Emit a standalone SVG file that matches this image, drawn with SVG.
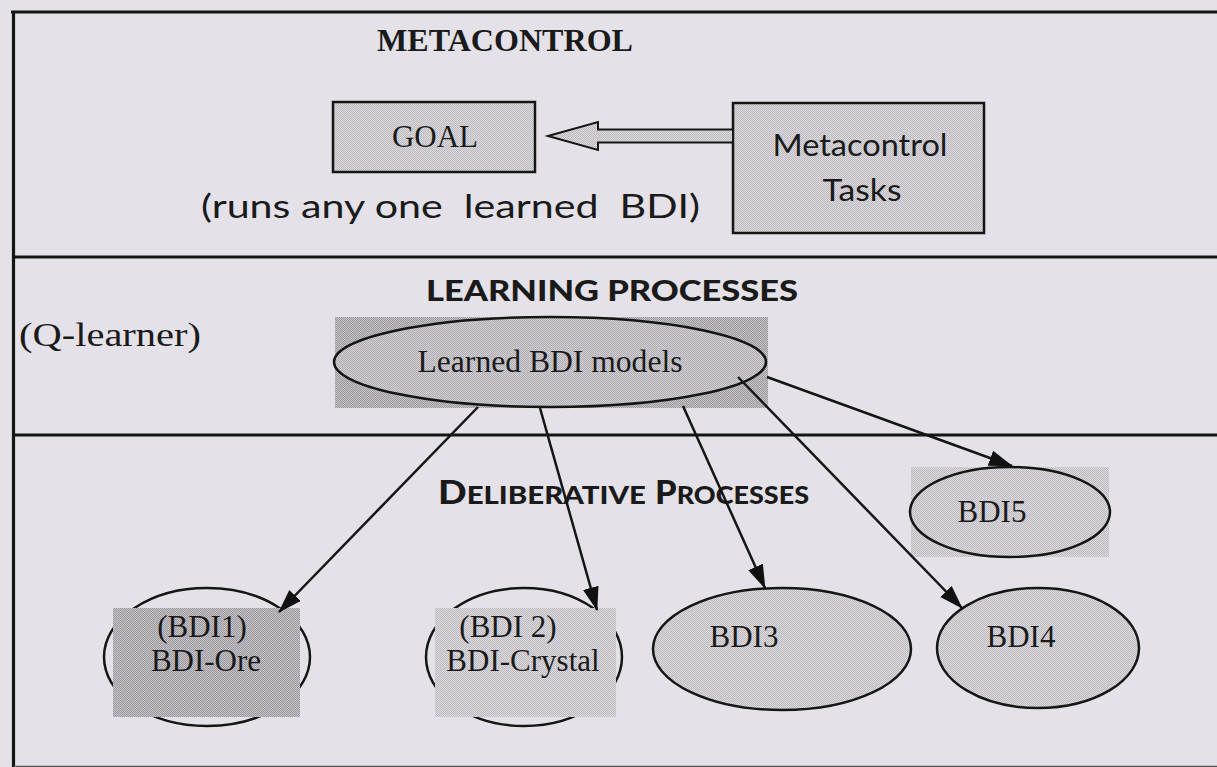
<svg xmlns="http://www.w3.org/2000/svg" width="1217" height="767" viewBox="0 0 1217 767">
  <defs>
    <!-- halftone-style dither fills -->
    <pattern id="dLight" width="2" height="2" patternUnits="userSpaceOnUse">
      <rect width="2" height="2" fill="#dcdadf"/>
      <rect width="1" height="1" fill="#bcbabf"/>
      <rect x="1" y="1" width="1" height="1" fill="#bcbabf"/>
    </pattern>
    <pattern id="dMid" width="2" height="2" patternUnits="userSpaceOnUse">
      <rect width="2" height="2" fill="#d2d0d5"/>
      <rect width="1" height="1" fill="#aeacb1"/>
      <rect x="1" y="1" width="1" height="1" fill="#aeacb1"/>
    </pattern>
    <pattern id="dDark" width="2" height="2" patternUnits="userSpaceOnUse">
      <rect width="2" height="2" fill="#c6c4c9"/>
      <rect width="1" height="1" fill="#9a989d"/>
      <rect x="1" y="1" width="1" height="1" fill="#9a989d"/>
    </pattern>
    <marker id="head" viewBox="0 0 24 18" refX="23" refY="9" markerWidth="24" markerHeight="18" markerUnits="userSpaceOnUse" orient="auto">
      <path d="M0 1 L24 9 L0 17 Z" fill="#111"/>
    </marker>
  </defs>
  <style>
    .serif { font-family: "Liberation Serif", "Times New Roman", serif; fill: #1a1a1a; }
    .hand { font-family: "Lato", "Open Sans", sans-serif; fill: #1a1a1a; }
    .box { stroke: #151515; stroke-width: 2.5; }
    .oval { stroke: #151515; stroke-width: 2.5; }
    .frame { stroke: #151515; stroke-width: 3.2; fill: none; }
    .link { stroke: #151515; stroke-width: 2.5; fill: none; marker-end: url(#head); }
  </style>

  <rect width="1217" height="767" fill="#e4e2e8"/>

  <!-- outer frame and layer dividers -->
  <g id="frame">
    <path class="frame" d="M11 12 H1217 M13.5 12 V767 M13.5 257 H1217 M13.5 435 H1217"/>
    <path d="M13.5 766.5 H1217" stroke="#555" stroke-width="1.5"/>
  </g>

  <!-- layer titles -->
  <g id="titles">
    <text class="serif" x="377" y="51" font-size="32" font-weight="bold" textLength="256" lengthAdjust="spacingAndGlyphs">METACONTROL</text>
    <text class="hand" x="426" y="301" font-size="29" font-weight="900" textLength="372" lengthAdjust="spacingAndGlyphs">LEARNING PROCESSES</text>
    <text class="hand" x="438" y="504" font-weight="900" textLength="208" lengthAdjust="spacingAndGlyphs"><tspan font-size="32">D</tspan><tspan font-size="25">ELIBERATIVE</tspan></text>
    <text class="hand" x="655" y="504" font-weight="900" textLength="154" lengthAdjust="spacingAndGlyphs"><tspan font-size="32">P</tspan><tspan font-size="25">ROCESSES</tspan></text>
    <text class="serif" x="19" y="346" font-size="34" textLength="182" lengthAdjust="spacingAndGlyphs">(Q-learner)</text>
    <text class="hand" x="201" y="218" font-size="32" xml:space="preserve" textLength="499" lengthAdjust="spacingAndGlyphs">(runs any one  learned  BDI)</text>
  </g>

  <g id="goal">
    <rect class="box" x="333" y="102" width="202" height="70" fill="url(#dLight)"/>
    <text class="serif" x="435" y="147" font-size="31" text-anchor="middle">GOAL</text>
  </g>

  <g id="metacontrol-tasks">
    <rect class="box" x="733" y="103" width="251" height="130" fill="url(#dLight)"/>
    <text class="hand" x="860" y="156" font-size="31" text-anchor="middle" textLength="175" lengthAdjust="spacingAndGlyphs">Metacontrol</text>
    <text class="hand" x="862" y="201" font-size="31" text-anchor="middle" textLength="79" lengthAdjust="spacingAndGlyphs">Tasks</text>
  </g>

  <g id="learned-bdi-models">
    <rect x="335" y="317" width="433" height="91" fill="url(#dDark)"/>
    <ellipse class="oval" cx="550" cy="362" rx="216" ry="45" fill="url(#dMid)"/>
    <text class="serif" x="550" y="372" font-size="32" text-anchor="middle" textLength="265" lengthAdjust="spacingAndGlyphs">Learned BDI models</text>
  </g>

  <g id="bdi1">
    <ellipse class="oval" cx="207" cy="657" rx="103" ry="69" fill="none"/>
    <rect x="113" y="608" width="187" height="109" fill="url(#dDark)"/>
    <text class="serif" x="202" y="637" font-size="31" text-anchor="middle">(BDI1)</text>
    <text class="serif" x="206" y="671" font-size="31" text-anchor="middle">BDI-Ore</text>
  </g>

  <g id="bdi2">
    <ellipse class="oval" cx="524" cy="657" rx="98" ry="69" fill="none"/>
    <rect x="435" y="608" width="181" height="109" fill="url(#dLight)"/>
    <text class="serif" x="508" y="637" font-size="31" text-anchor="middle">(BDI 2)</text>
    <text class="serif" x="523" y="671" font-size="31" text-anchor="middle">BDI-Crystal</text>
  </g>

  <g id="bdi3">
    <ellipse class="oval" cx="782" cy="649" rx="129" ry="61" fill="url(#dLight)"/>
    <text class="serif" x="744" y="647" font-size="31" text-anchor="middle">BDI3</text>
  </g>

  <g id="bdi4">
    <ellipse class="oval" cx="1038" cy="648" rx="101" ry="60" fill="url(#dLight)"/>
    <text class="serif" x="1021" y="647" font-size="31" text-anchor="middle">BDI4</text>
  </g>

  <g id="bdi5">
    <rect x="911" y="467" width="198" height="90" fill="url(#dLight)"/>
    <ellipse class="oval" cx="1010" cy="512" rx="100" ry="45" fill="url(#dLight)"/>
    <text class="serif" x="992" y="522" font-size="31" text-anchor="middle">BDI5</text>
  </g>

  <!-- connectors -->
  <g id="connectors">
    <polygon points="548,136 598,122 598,129.5 733,129.5 733,142.5 598,142.5 598,150" fill="url(#dLight)" stroke="#151515" stroke-width="2"/>
    <path class="link" d="M478 407 L279 612"/>
    <path class="link" d="M540 408 L597 610"/>
    <path class="link" d="M683 406 L765 588"/>
    <path class="link" d="M738 377 L962 608"/>
    <path class="link" d="M767 377 L1012 466"/>
  </g>
</svg>
